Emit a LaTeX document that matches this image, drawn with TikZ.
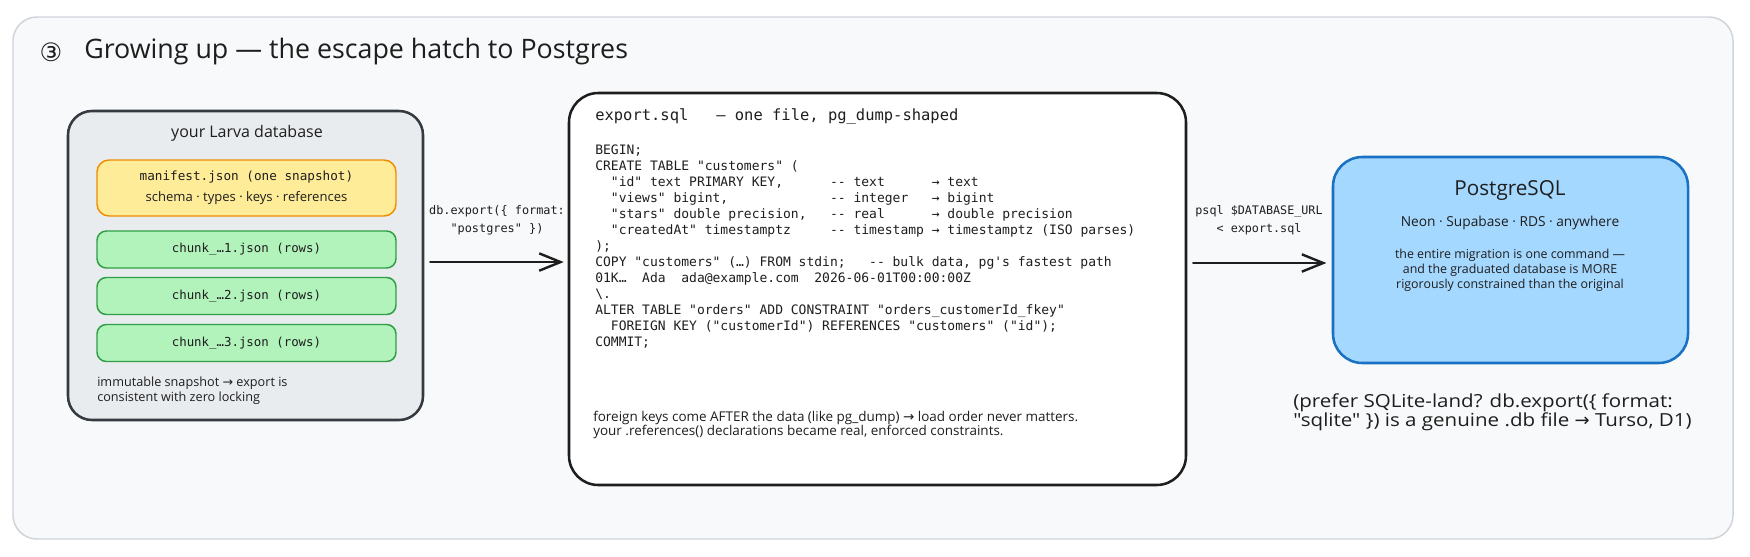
\documentclass[tikz,border=0pt]{standalone}
\usepackage{fontspec}
\setmainfont{Open Sans}[Ligatures=TeXOff]
\setmonofont{DejaVu Sans Mono}
\newfontfamily\symfont{DejaVu Sans}
\newfontfamily\widehand{Open Sans}[FakeStretch=1.14, Ligatures=TeXOff]
\usetikzlibrary{arrows.meta}

\definecolor{inkc}{HTML}{1E1E1E}
\definecolor{framefill}{HTML}{F8F9FA}
\definecolor{framedraw}{HTML}{CED4DA}
\definecolor{dbfill}{HTML}{E9ECEF}
\definecolor{dbdraw}{HTML}{343A40}
\definecolor{manifill}{HTML}{FFEC99}
\definecolor{manidraw}{HTML}{F08C00}
\definecolor{chunkfill}{HTML}{B2F2BB}
\definecolor{chunkdraw}{HTML}{2F9E44}
\definecolor{pgfill}{HTML}{A5D8FF}
\definecolor{pgdraw}{HTML}{1971C2}

\newcommand{\hto}{{\symfont →}}

\tikzset{
  hand/.style={font=\fontsize{9.6}{10.5}\selectfont, text=inkc, inner sep=0pt},
  code/.style={font=\ttfamily\fontsize{9.75}{12}\selectfont, text=inkc, inner sep=0pt},
  chunkbox/.style={draw=chunkdraw, fill=chunkfill, line width=1.1pt, rounded corners=7pt,
    minimum width=224.25pt, minimum height=27.75pt, inner sep=0pt,
    font=\ttfamily\fontsize{9.3}{11}\selectfont, text=inkc},
  flow/.style={draw=inkc, line width=1.8pt, line cap=round,
    -{Straight Barb[length=16pt,width=13pt]}},
}

\begin{document}
\begin{tikzpicture}[x=0.75pt,y=0.75pt,yscale=-1,xscale=1]
\useasboundingbox (0,0) rectangle (1750,557);

%Outer frame
\node[draw=framedraw, fill=framefill, line width=1.1pt, rounded corners=18pt,
  minimum width=1290pt, minimum height=391.5pt] (frame) at (873,278) {};

% Title
\node[text=inkc, inner sep=0pt, font=\symfont\fontsize{19}{22}\selectfont] (titlenum) at (51,52) {③};
\node[text=inkc, inner sep=0pt, anchor=west, font=\fontsize{20.1}{23}\selectfont] (title) at (84,52)
  {Growing up — the escape hatch to Postgres};

%Rounded Rect: database
\node[draw=dbdraw, fill=dbfill, line width=1.9pt, rounded corners=18pt,
  minimum width=266.25pt, minimum height=231.75pt] (dbbox) at (245.5,265.5) {};
\node[hand, font=\fontsize{12}{14}\selectfont] (dbtitle) at (247,133) {your Larva database};

%Rounded Rect: manifest
\node[draw=manidraw, fill=manifill, line width=1.1pt, rounded corners=9pt,
  minimum width=224.25pt, minimum height=42pt] (manifest) at (246.5,188) {};
\node[code, font=\ttfamily\fontsize{9.5}{11}\selectfont] (manifestlbl) at (246.5,177) {manifest.json (one snapshot)};
\node[hand, font=\fontsize{9.8}{11}\selectfont] (manifestsub) at (246.5,198) {schema · types · keys · references};

%Rounded Rect: chunks
\node[chunkbox] (chunkA) at (246.5,249.5) {chunk\_…1.json (rows)};
\node[chunkbox] (chunkB) at (246.5,296) {chunk\_…2.json (rows)};
\node[chunkbox] (chunkC) at (246.5,343) {chunk\_…3.json (rows)};

% Text Node
\node[hand, anchor=west, align=left, font=\fontsize{9.5}{11.25}\selectfont] (dbnote) at (97,390.5)
  {immutable snapshot \hto{} export is\\consistent with zero locking};

%Rounded Rect: export.sql
\node[draw=inkc, fill=white, line width=1.9pt, rounded corners=22pt,
  minimum width=462.75pt, minimum height=294pt] (sqlbox) at (877.5,289) {};
\node[code, anchor=west, font=\ttfamily\fontsize{11.6}{14}\selectfont] (sqlhead) at (595,116)
  {export.sql~~~— one file, pg\_dump-shaped};
\node[code, anchor=north west, align=left] (sqlcode) at (595,145) {BEGIN;\\
CREATE TABLE "customers" (\\
~~"id" text PRIMARY KEY,~~~~~~-{}- text~~~~~~→ text\\
~~"views" bigint,~~~~~~~~~~~~~-{}- integer~~~→ bigint\\
~~"stars" double precision,~~~-{}- real~~~~~~→ double precision\\
~~"createdAt" timestamptz~~~~~-{}- timestamp → timestamptz (ISO parses)\\
);\\
COPY "customers" (…) FROM stdin;~~~-{}- bulk data, pg's fastest path\\
01K…~~Ada~~ada@example.com~~2026-06-01T00:00:00Z\\
\textbackslash.\\
ALTER TABLE "orders" ADD CONSTRAINT "orders\_customerId\_fkey"\\
~~FOREIGN KEY ("customerId") REFERENCES "customers" ("id");\\
COMMIT;};
\node[hand, anchor=west, align=left, font=\fontsize{10.1}{10.5}\selectfont] (sqlnote) at (593,425)
  {foreign keys come AFTER the data (like pg\_dump) \hto{} load order never matters.\\
   your .references() declarations became real, enforced constraints.};

%Rounded Rect: PostgreSQL
\node[draw=pgdraw, fill=pgfill, line width=1.9pt, rounded corners=22pt,
  minimum width=266.25pt, minimum height=154.5pt] (pgbox) at (1510.5,260) {};
\node[hand, font=\fontsize{15.5}{18}\selectfont] (pgtitle) at (1510,190) {PostgreSQL};
\node[hand, font=\fontsize{10.3}{12}\selectfont] (pghosts) at (1510,223) {Neon · Supabase · RDS · anywhere};
\node[hand, align=center, font=\fontsize{9.3}{11.25}\selectfont] (pgnote) at (1510,270)
  {the entire migration is one command —\\and the graduated database is MORE\\rigorously constrained than the original};

% Text Node
\node[hand, anchor=west, align=left, font=\widehand\fontsize{13.5}{13.5}\selectfont] (sqlitenote) at (1293,412)
  {(prefer SQLite-land? db.export(\{ format:\\"sqlite" \}) is a genuine .db file \hto{} Turso, D1)};

%Arrows
\draw[flow, shorten <=4.5pt, shorten >=3pt] ([yshift=-2.6pt]dbbox.east) -- ([yshift=-2.6pt]dbbox.east -| sqlbox.west);
\node[code, align=center, font=\ttfamily\fontsize{8.9}{13.5}\selectfont] (exportlbl) at (497,220)
  {db.export(\{ format:\\"postgres" \})};
\draw[flow, shorten <=4.5pt, shorten >=4pt] ([yshift=2.25pt]pgbox.west -| sqlbox.east) -- ([yshift=2.25pt]pgbox.west);
\node[code, align=center, font=\ttfamily\fontsize{8.8}{13.5}\selectfont] (psqllbl) at (1259,220)
  {psql \$DATABASE\_URL\\< export.sql};

\end{tikzpicture}
\end{document}
